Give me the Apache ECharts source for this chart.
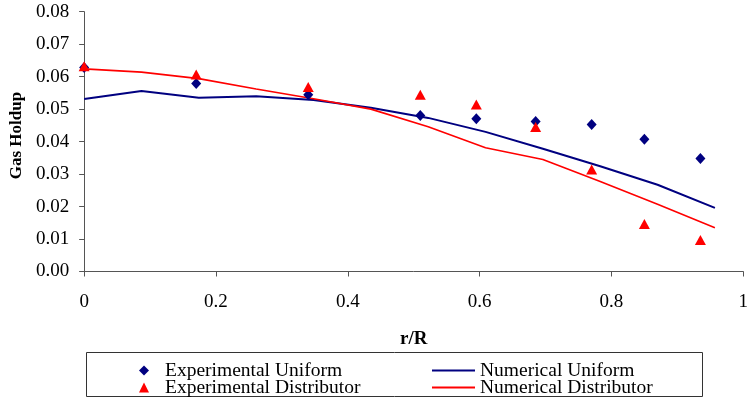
<!DOCTYPE html>
<html>
<head>
<meta charset="utf-8">
<script src="https://cdn.jsdelivr.net/npm/echarts@6/dist/echarts.min.js"></script>
<style>html,body{margin:0;padding:0;background:#fff}#c{width:751px;height:400px}</style>
</head>
<body>
<div id="c"></div>
<script>
var expR = [0, 0.17, 0.34, 0.51, 0.595, 0.685, 0.77, 0.85, 0.935];
var expUniform = [0.0628, 0.0579, 0.0544, 0.048, 0.047, 0.0462, 0.0453, 0.0407, 0.0348];
var expDistributor = [0.0632, 0.0607, 0.0568, 0.0544, 0.0514, 0.0445, 0.0314, 0.0146, 0.0097];
var numR = [0, 0.087, 0.174, 0.261, 0.348, 0.435, 0.522, 0.609, 0.696, 0.783, 0.870, 0.957];
var numUniform = [0.0531, 0.0556, 0.0535, 0.054, 0.0528, 0.0504, 0.0473, 0.043, 0.0378, 0.0324, 0.0267, 0.0196];
var numDistributor = [0.0624, 0.0614, 0.0594, 0.0562, 0.0532, 0.0500, 0.0446, 0.0381, 0.0345, 0.0277, 0.0207, 0.0135];

function pairs(xs, ys) { return xs.map(function (x, i) { return [x, ys[i]]; }); }

var font = 'Liberation Serif';
var legText = { fontFamily: font, fontSize: 19.5, color: '#000', lineHeight: 17 };
function markerLegend(name, icon, top) {
  return {
    orient: 'horizontal', left: 134, top: top, itemGap: 0,
    itemWidth: 10, itemHeight: 10, icon: icon,
    textStyle: Object.assign({ padding: [0, 0, 0, 11] }, legText),
    data: [name]
  };
}
function lineLegend(name, top) {
  return {
    orient: 'horizontal', left: 427, top: top, itemGap: 0,
    itemWidth: 43, itemHeight: 2, icon: 'rect',
    textStyle: legText,
    data: [name]
  };
}

var chart = echarts.init(document.getElementById('c'));
chart.setOption({
  animation: false,
  grid: { left: 82, right: 3, top: 11.7, bottom: 128.5, containLabel: false },
  xAxis: {
    type: 'value', min: 0, max: 1, interval: 0.2,
    name: 'r/R', nameLocation: 'middle', nameGap: 58,
    nameTextStyle: { fontFamily: font, fontWeight: 'bold', fontSize: 19, color: '#000' },
    axisLine: { lineStyle: { color: '#555', width: 1 } },
    axisTick: { inside: false, length: 5, lineStyle: { color: '#555' } },
    axisLabel: { fontFamily: font, fontSize: 19, color: '#000', margin: 21 },
    splitLine: { show: false }
  },
  yAxis: {
    type: 'value', min: 0, max: 0.08, interval: 0.01,
    name: 'Gas Holdup', nameLocation: 'middle', nameGap: 57,
    nameTextStyle: { fontFamily: font, fontWeight: 'bold', fontSize: 17, color: '#000', padding: [0, 0, 0, 12] },
    axisLine: { show: true, lineStyle: { color: '#555', width: 1 } },
    axisTick: { show: true, inside: false, length: 5, lineStyle: { color: '#555' } },
    axisLabel: { fontFamily: font, fontSize: 19, color: '#000', margin: 15,
      formatter: function (v) { return v.toFixed(2); } },
    splitLine: { show: false }
  },
  legend: [
    markerLegend('Experimental Uniform', 'diamond', 355.5),
    markerLegend('Experimental Distributor', 'triangle', 372.5),
    lineLegend('Numerical Uniform', 355.5),
    lineLegend('Numerical Distributor', 372.5)
  ],
  graphic: [{
    type: 'rect', shape: { x: 86.5, y: 352.5, width: 616, height: 44 },
    style: { fill: 'none', stroke: '#333', lineWidth: 1 }, silent: true, z: 0
  }],
  series: [
    {
      name: 'Numerical Uniform', type: 'line', data: pairs(numR, numUniform),
      symbol: 'none', lineStyle: { color: '#000080', width: 2 }, itemStyle: { color: '#000080' }, z: 2
    },
    {
      name: 'Numerical Distributor', type: 'line', data: pairs(numR, numDistributor),
      symbol: 'none', lineStyle: { color: '#ff0000', width: 1.6 }, itemStyle: { color: '#ff0000' }, z: 2
    },
    {
      name: 'Experimental Uniform', type: 'scatter', data: pairs(expR, expUniform),
      symbol: 'diamond', symbolSize: [10, 11], itemStyle: { color: '#000080', opacity: 1 }, z: 3
    },
    {
      name: 'Experimental Distributor', type: 'scatter', data: pairs(expR, expDistributor),
      symbol: 'triangle', symbolSize: [11, 10], itemStyle: { color: '#ff0000', opacity: 1 }, z: 4
    }
  ]
});
</script>
</body>
</html>
